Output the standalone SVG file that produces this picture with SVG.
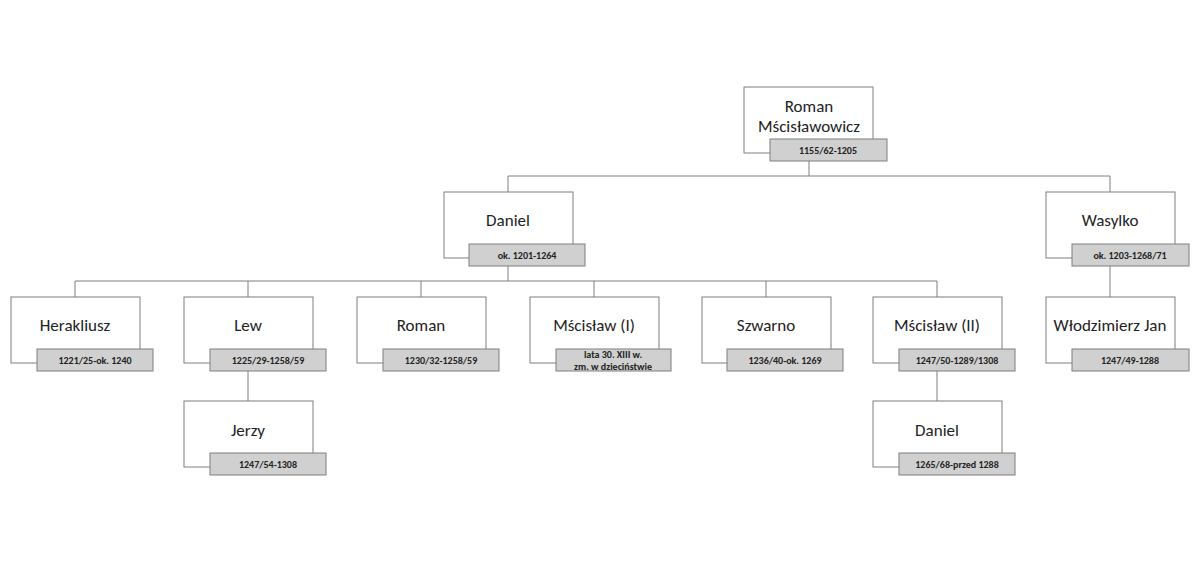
<svg xmlns="http://www.w3.org/2000/svg" width="1200" height="563" viewBox="0 0 1200 563">
<style>
.b{fill:#fff;stroke:#7f7f7f;stroke-width:1}
.l{fill:#d0d0d0;stroke:#7f7f7f;stroke-width:1}
.n{font-family:Carlito,"Open Sans","Liberation Sans",sans-serif;font-size:17px;fill:#222;text-anchor:middle}
.d{font-family:Carlito,"Open Sans","Liberation Sans",sans-serif;font-size:10px;font-weight:bold;fill:#222;text-anchor:middle}
.c{fill:none;stroke:#7f7f7f;stroke-width:1}
</style>
<rect width="1200" height="563" fill="#fff"/>
<g id="connectors" class="c">
<path d="M809 161V176M508 176H1110M508 176V192M1110 176V192"/>
<path d="M508 266V281M75 281H937M75 281V297M248 281V297M421 281V297M594 281V297M766 281V297M937 281V297"/>
<path d="M248 371V401M937 371V401M1110 266V297"/>
</g>
<g id="roman_m"><rect class="b" x="744" y="87" width="129" height="66"/><rect class="l" x="770" y="139" width="117" height="22"/><text class="n" x="809" y="112">Roman</text><text class="n" x="809" y="132">Mścisławowicz</text><text class="d" x="828" y="154">1155/62-1205</text></g>
<g id="daniel"><rect class="b" x="444" y="192" width="129" height="66"/><rect class="l" x="469" y="244" width="116" height="22"/><text class="n" x="508" y="226">Daniel</text><text class="d" x="527" y="259">ok. 1201-1264</text></g>
<g id="wasylko"><rect class="b" x="1046" y="192" width="129" height="66"/><rect class="l" x="1072" y="244" width="117" height="22"/><text class="n" x="1110" y="226">Wasylko</text><text class="d" x="1130" y="259">ok. 1203-1268/71</text></g>
<g id="herakliusz"><rect class="b" x="11" y="297" width="129" height="66"/><rect class="l" x="37" y="349" width="116" height="22"/><text class="n" x="75" y="331">Herakliusz</text><text class="d" x="95" y="364">1221/25-ok. 1240</text></g>
<g id="lew"><rect class="b" x="184" y="297" width="129" height="66"/><rect class="l" x="210" y="349" width="116" height="22"/><text class="n" x="248" y="331">Lew</text><text class="d" x="268" y="364">1225/29-1258/59</text></g>
<g id="roman"><rect class="b" x="357" y="297" width="129" height="66"/><rect class="l" x="383" y="349" width="116" height="22"/><text class="n" x="421" y="331">Roman</text><text class="d" x="441" y="364">1230/32-1258/59</text></g>
<g id="mscislaw1"><rect class="b" x="530" y="297" width="129" height="66"/><rect class="l" x="556" y="349" width="115" height="22"/><text class="n" x="594" y="331">Mścisław (I)</text><text class="d" x="613" y="358">lata 30. XIII w.</text><text class="d" x="613" y="370">zm. w dzieciństwie</text></g>
<g id="szwarno"><rect class="b" x="702" y="297" width="129" height="66"/><rect class="l" x="727" y="349" width="116" height="22"/><text class="n" x="766" y="331">Szwarno</text><text class="d" x="785" y="364">1236/40-ok. 1269</text></g>
<g id="mscislaw2"><rect class="b" x="873" y="297" width="129" height="66"/><rect class="l" x="899" y="349" width="116" height="22"/><text class="n" x="937" y="331">Mścisław (II)</text><text class="d" x="957" y="364">1247/50-1289/1308</text></g>
<g id="wlodzimierz"><rect class="b" x="1046" y="297" width="129" height="66"/><rect class="l" x="1072" y="349" width="117" height="22"/><text class="n" x="1110" y="331">Włodzimierz Jan</text><text class="d" x="1130" y="364">1247/49-1288</text></g>
<g id="jerzy"><rect class="b" x="184" y="401" width="129" height="66"/><rect class="l" x="210" y="453" width="116" height="22"/><text class="n" x="248" y="436">Jerzy</text><text class="d" x="268" y="468">1247/54-1308</text></g>
<g id="daniel2"><rect class="b" x="873" y="401" width="129" height="66"/><rect class="l" x="899" y="453" width="116" height="22"/><text class="n" x="937" y="436">Daniel</text><text class="d" x="957" y="468">1265/68-przed 1288</text></g>
</svg>
